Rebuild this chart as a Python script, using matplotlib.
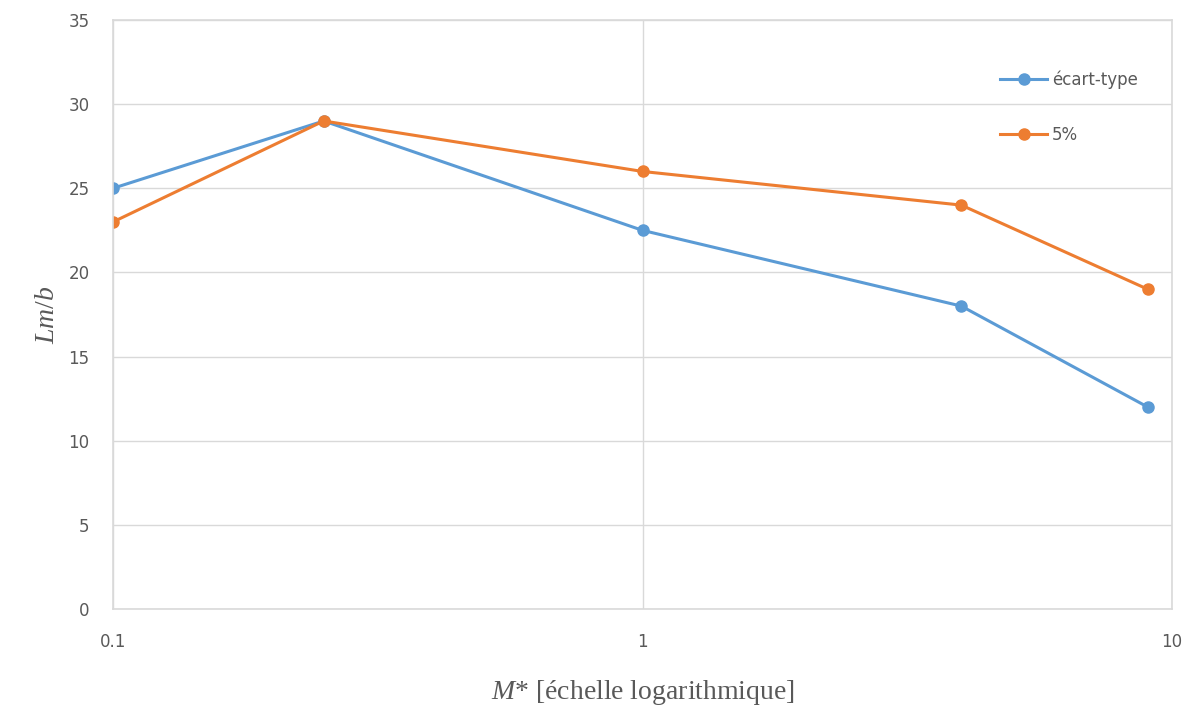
import numpy as np
import matplotlib.pyplot as plt
from matplotlib.ticker import FixedLocator, NullLocator

plt.rcParams['mathtext.fontset'] = 'custom'
plt.rcParams['mathtext.it'] = 'Liberation Serif:italic'
plt.rcParams['mathtext.rm'] = 'Liberation Serif'

# valeurs
m_star = [0.1, 0.25, 1, 4, 9]
ecart_type = [25, 29, 22.5, 18, 12]
cinq_pct = [23, 29, 26, 24, 19]
x_ticks = [0.1, 1, 10]
x_tick_labels = ['0.1', '1', '10']
y_ticks = [0, 5, 10, 15, 20, 25, 30, 35]

fig = plt.figure(figsize=(11.92, 7.11), dpi=100)
ax = fig.add_axes([113/1192, 1 - 609/711, (1172-113)/1192, (609-20)/711])

ax.plot(m_star, ecart_type, color='#5B9BD5', lw=2.2, marker='o', ms=8, label='écart-type')
ax.plot(m_star, cinq_pct, color='#ED7D31', lw=2.2, marker='o', ms=8, label='5%')

ax.set_xscale('log')
ax.set_xlim(0.1, 10)
ax.set_ylim(0, 35)
ax.xaxis.set_major_locator(FixedLocator(x_ticks))
ax.xaxis.set_minor_locator(NullLocator())
ax.set_xticklabels(x_tick_labels)
ax.set_yticks(y_ticks)

grid_c = '#d9d9d9'
ax.grid(True, color=grid_c, lw=1)
ax.set_axisbelow(True)
for s in ax.spines.values():
    s.set_color(grid_c)
    s.set_linewidth(1.2)
ax.tick_params(axis='y', length=0, colors='#595959', labelsize=12, pad=17)
ax.tick_params(axis='x', length=0, colors='#595959', labelsize=12, pad=17)

ax.set_ylabel(r'$Lm/b$', fontsize=20, color='#595959', labelpad=6,
              family='Liberation Serif')
ax.set_xlabel(r'$M$* [échelle logarithmique]', fontsize=20, color='#595959',
              labelpad=20, family='Liberation Serif')

leg = ax.legend(loc='upper right', bbox_to_anchor=(0.982, 0.94), frameon=False,
                fontsize=12, labelspacing=2.2, handlelength=2.8, handletextpad=0.3)
for t in leg.get_texts():
    t.set_color('#595959')

fig.savefig('out.png', dpi=100)
